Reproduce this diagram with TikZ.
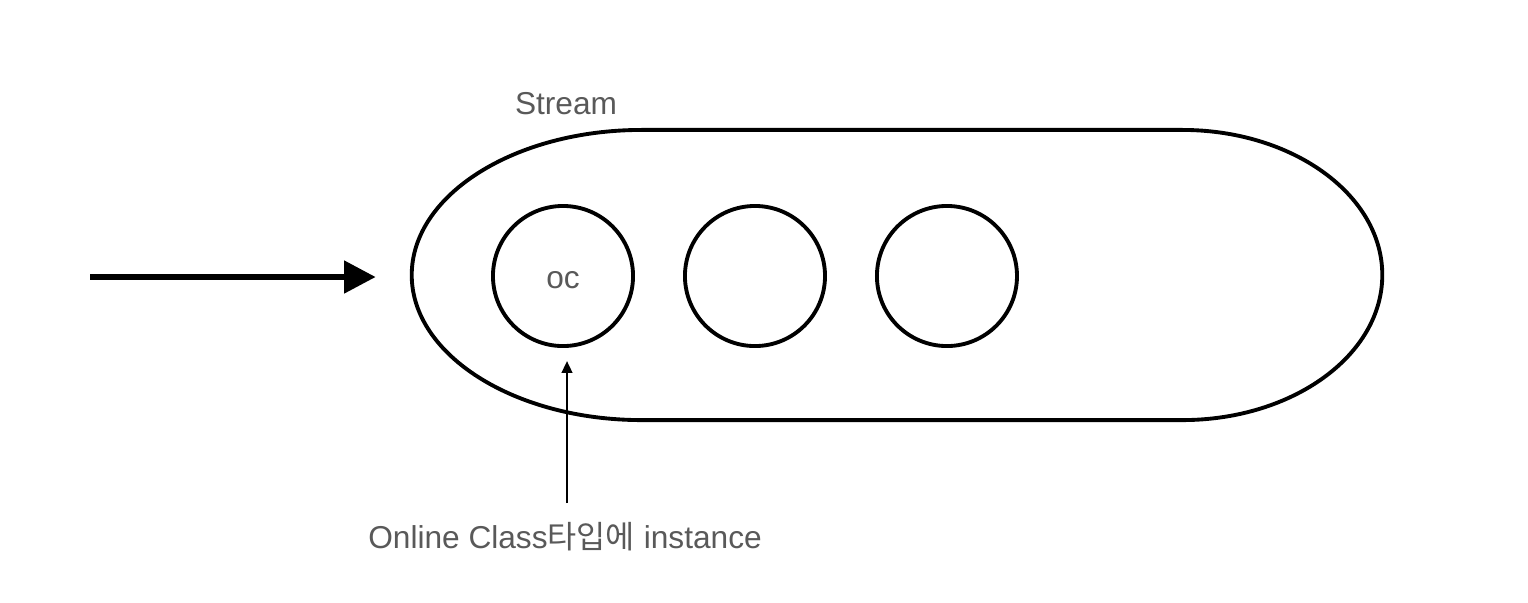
\documentclass[tikz,border=0pt]{standalone}
\usepackage{fontspec}
\setmainfont{Liberation Sans}
\newfontfamily\krfont{Noto Sans CJK KR}
\usetikzlibrary{arrows.meta,positioning}

\begin{document}
\begin{tikzpicture}[x=0.01cm, y=-0.01cm, node distance=0.48cm,
label/.style={text=black!65, font=\fontsize{9}{11}\selectfont, inner sep=0pt},
obj/.style={draw, circle, line width=1.1pt, minimum size=1.4cm, inner sep=0pt},
stream/.style={minimum width=9.7cm, minimum height=2.9cm, outer sep=0pt},
outline/.style={line width=1.1pt, line join=round},
bigarrow/.style={-{Triangle[length=9pt, width=9pt]}, line width=1.7pt},
arrow/.style={-{Triangle[length=3.4pt, width=3pt]}, line width=0.7pt}]
\useasboundingbox (0,0) rectangle (1528,602);
\node[stream] (strm) at (897,275) {};
\draw[outline] ([xshift=2.3cm]strm.north west) -- ([xshift=-2.0cm]strm.north east)
  arc[start angle=90, end angle=-90, x radius=2.0cm, y radius=1.45cm]
  -- ([xshift=2.3cm]strm.south west)
  arc[start angle=270, end angle=90, x radius=2.3cm, y radius=1.45cm] -- cycle;
\node[label, anchor=base] (strmlabel) at (566,114) {Stream};
\node[obj, label] (oc1) at (563,276) {\raisebox{-1.2mm}[0pt][0pt]{oc}};
\node[obj, right=of oc1] (oc2) {};
\node[obj, right=of oc2] (oc3) {};
\node[label, anchor=base] (desc) at (565,548) {Online Class{\krfont 타입에} instance};
\coordinate (in) at (90,277);
\draw[bigarrow, shorten >=3.6mm] (in) -- (strm.west |- in);
\draw[arrow, shorten <=1.8mm, shorten >=1.3mm] ([xshift=0.4mm]desc.north -| oc1.south) -- ([xshift=0.4mm]oc1.south);
\end{tikzpicture}
\end{document}
